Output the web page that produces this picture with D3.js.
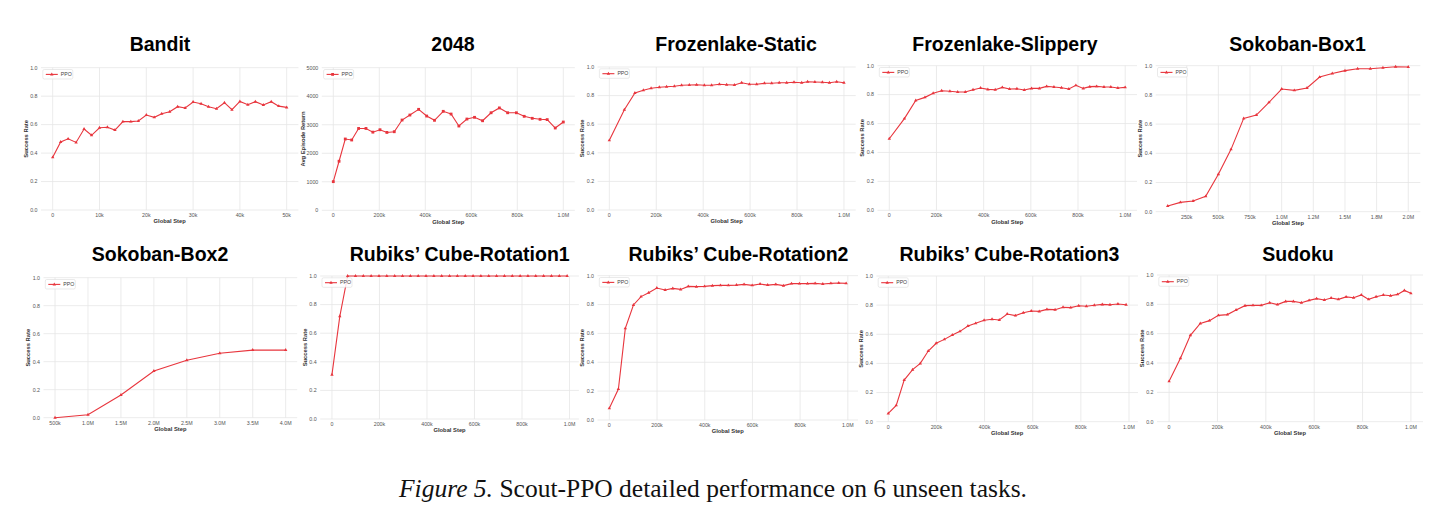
<!DOCTYPE html>
<html>
<head>
<meta charset="utf-8">
<script src="https://cdn.jsdelivr.net/npm/d3@7"></script>
<style>
  body { margin: 0; background: #fff; }
  svg { display: block; }
</style>
</head>
<body>
<div id="chart"></div>
<script>
// ---- data (steps in thousands) ----
var titles = ["Bandit", "2048", "Frozenlake-Static", "Frozenlake-Slippery", "Sokoban-Box1",
  "Sokoban-Box2", "Rubiks\u2019 Cube-Rotation1", "Rubiks\u2019 Cube-Rotation2", "Rubiks\u2019 Cube-Rotation3", "Sudoku"];

var banditSteps = [0, 1.7, 3.3, 5, 6.7, 8.3, 10, 11.7, 13.3, 15, 16.7, 18.3, 20, 21.7, 23.3, 25, 26.7, 28.3, 30, 31.7, 33.3, 35, 36.7, 38.3, 40, 41.7, 43.3, 45, 46.7, 48.3, 50];
var banditValues = [0.37, 0.478, 0.5, 0.475, 0.569, 0.525, 0.578, 0.581, 0.562, 0.621, 0.621, 0.625, 0.667, 0.651, 0.677, 0.691, 0.726, 0.717, 0.759, 0.747, 0.726, 0.712, 0.754, 0.705, 0.763, 0.74, 0.761, 0.738, 0.761, 0.73, 0.721];

var g2048Steps = [0, 25, 52, 80, 110, 142, 172, 203, 233, 265, 299, 333, 371, 406, 440, 478, 512, 546, 581, 614, 649, 686, 722, 758, 796, 830, 865, 899, 930, 965, 1000];
var g2048Values = [1005, 1720, 2500, 2465, 2870, 2870, 2740, 2825, 2730, 2755, 3165, 3340, 3540, 3305, 3155, 3470, 3375, 2955, 3200, 3260, 3140, 3420, 3590, 3420, 3420, 3295, 3225, 3190, 3180, 2885, 3095];

var flStaticSteps = [0, 64, 109, 145, 178, 213, 244, 277, 308, 341, 372, 405, 436, 469, 500, 533, 564, 597, 628, 661, 692, 724, 756, 787, 820, 845, 876, 908, 938, 969, 1000];
var flStaticValues = [0.487, 0.701, 0.818, 0.837, 0.851, 0.858, 0.862, 0.865, 0.872, 0.874, 0.876, 0.872, 0.872, 0.879, 0.876, 0.874, 0.89, 0.879, 0.879, 0.886, 0.886, 0.89, 0.89, 0.893, 0.89, 0.897, 0.895, 0.893, 0.89, 0.897, 0.89];

var flSlipSteps = [0, 64, 112, 151, 186, 222, 257, 290, 322, 355, 387, 418, 449, 479, 510, 541, 572, 603, 636, 667, 698, 730, 761, 791, 822, 850, 879, 910, 939, 969, 1000];
var flSlipValues = [0.495, 0.634, 0.76, 0.781, 0.809, 0.827, 0.823, 0.818, 0.818, 0.834, 0.846, 0.836, 0.834, 0.85, 0.839, 0.841, 0.832, 0.843, 0.843, 0.857, 0.853, 0.848, 0.839, 0.864, 0.843, 0.855, 0.857, 0.853, 0.853, 0.846, 0.85];

var box1Steps = [100, 200, 300, 400, 500, 600, 700, 800, 900, 1000, 1100, 1200, 1300, 1400, 1500, 1600, 1700, 1800, 1900, 2000];
var box1Values = [0.039, 0.064, 0.073, 0.105, 0.256, 0.427, 0.639, 0.662, 0.749, 0.84, 0.831, 0.847, 0.922, 0.947, 0.966, 0.979, 0.979, 0.986, 0.993, 0.991];

var box2Steps = [500, 1000, 1500, 2000, 2500, 3000, 3500, 4000];
var box2Values = [0.0, 0.021, 0.162, 0.333, 0.41, 0.46, 0.483, 0.483];

var rot1Steps = [0, 33, 66, 99, 132, 165, 198, 231, 264, 297, 330, 363, 396, 429, 462, 495, 528, 561, 594, 627, 660, 693, 726, 759, 792, 825, 858, 891, 924, 957, 990];
var rot1Values = [0.31, 0.718, 1, 1, 1, 1, 1, 1, 1, 1, 1, 1, 1, 1, 1, 1, 1, 1, 1, 1, 1, 1, 1, 1, 1, 1, 1, 1, 1, 1, 1];

var rot2Steps = [0, 38, 67, 101, 133, 165, 199, 234, 266, 299, 331, 365, 399, 432, 466, 499, 533, 565, 599, 632, 664, 698, 730, 764, 797, 831, 863, 895, 929, 962, 993];
var rot2Values = [0.081, 0.215, 0.635, 0.797, 0.855, 0.882, 0.915, 0.901, 0.912, 0.905, 0.926, 0.924, 0.926, 0.931, 0.933, 0.933, 0.935, 0.94, 0.933, 0.942, 0.935, 0.94, 0.931, 0.945, 0.945, 0.945, 0.947, 0.942, 0.947, 0.949, 0.947];

var rot3Steps = [0, 33, 66, 101, 133, 166, 199, 233, 266, 298, 331, 363, 398, 431, 461, 494, 528, 561, 594, 627, 659, 693, 726, 758, 791, 823, 856, 889, 921, 954, 988];
var rot3Values = [0.057, 0.112, 0.286, 0.357, 0.4, 0.485, 0.538, 0.565, 0.595, 0.62, 0.657, 0.675, 0.696, 0.703, 0.698, 0.739, 0.728, 0.748, 0.76, 0.757, 0.771, 0.769, 0.785, 0.783, 0.796, 0.792, 0.799, 0.805, 0.803, 0.808, 0.803];

var sudokuSteps = [0, 47, 88, 129, 167, 204, 241, 277, 314, 347, 381, 416, 448, 482, 514, 547, 579, 610, 642, 670, 700, 732, 763, 795, 825, 856, 886, 916, 945, 973, 1000];
var sudokuValues = [0.275, 0.432, 0.589, 0.67, 0.689, 0.725, 0.73, 0.761, 0.791, 0.793, 0.793, 0.811, 0.798, 0.82, 0.82, 0.811, 0.827, 0.839, 0.83, 0.843, 0.834, 0.851, 0.845, 0.864, 0.834, 0.852, 0.864, 0.859, 0.868, 0.895, 0.875];

// tick values / labels
var ticksBandit = [0, 10, 20, 30, 40, 50];
var labelsBandit = ["0", "10k", "20k", "30k", "40k", "50k"];
var ticks1M = [0, 200, 400, 600, 800, 1000];
var labels1M = ["0", "200k", "400k", "600k", "800k", "1.0M"];
var ticksBox1 = [250, 500, 750, 1000, 1250, 1500, 1750, 2000];
var labelsBox1 = ["250k", "500k", "750k", "1.0M", "1.2M", "1.5M", "1.8M", "2.0M"];
var ticksBox2 = [500, 1000, 1500, 2000, 2500, 3000, 3500, 4000];
var labelsBox2 = ["500k", "1.0M", "1.5M", "2.0M", "2.5M", "3.0M", "3.5M", "4.0M"];
var ticksRate = [0, 0.2, 0.4, 0.6, 0.8, 1.0];
var labelsRate = ["0.0", "0.2", "0.4", "0.6", "0.8", "1.0"];
var ticksReturn = [0, 1000, 2000, 3000, 4000, 5000];
var labelsReturn = ["0", "1000", "2000", "3000", "4000", "5000"];

var caption = "Scout-PPO detailed performance on 6 unseen tasks.";

// ---- layout ----
var W = 1441, H = 517;
var red = "#e8353d";
// plot frames: left, right, top, bottom
var frames = [
  [41, 298.4, 67.7, 210], [321.8, 574.8, 67.7, 210.3], [597.6, 855.7, 67, 210],
  [877.5, 1137, 65.7, 210.3], [1155.7, 1420.3, 65.7, 211.7],
  [43.5, 297.2, 277.7, 417.7], [320.2, 578.9, 276, 419], [597.5, 858, 275.7, 420],
  [876.4, 1138, 276, 421.7], [1157, 1423, 275, 421.7]
];
var titleX = [160, 453, 736, 1005, 1297.5, 160, 459.7, 738.5, 1009.5, 1298];

var panels = [
  {steps: banditSteps, values: banditValues, xt: ticksBandit, xl: labelsBandit},
  {steps: g2048Steps, values: g2048Values, xt: ticks1M, xl: labels1M, ret: true},
  {steps: flStaticSteps, values: flStaticValues, xt: ticks1M, xl: labels1M},
  {steps: flSlipSteps, values: flSlipValues, xt: ticks1M, xl: labels1M},
  {steps: box1Steps, values: box1Values, xt: ticksBox1, xl: labelsBox1},
  {steps: box2Steps, values: box2Values, xt: ticksBox2, xl: labelsBox2},
  {steps: rot1Steps, values: rot1Values, xt: ticks1M, xl: labels1M},
  {steps: rot2Steps, values: rot2Values, xt: ticks1M, xl: labels1M},
  {steps: rot3Steps, values: rot3Values, xt: ticks1M, xl: labels1M},
  {steps: sudokuSteps, values: sudokuValues, xt: ticks1M, xl: labels1M}
];

var svg = d3.select("#chart").append("svg")
  .attr("width", W).attr("height", H)
  .style("font-family", "'Liberation Sans', Arial, Helvetica, sans-serif");

svg.append("rect").attr("width", W).attr("height", H).attr("fill", "#fff");

panels.forEach(function(p, i) {
  var f = frames[i];
  var ext = d3.extent(p.steps);
  var pad = (ext[1] - ext[0]) * 0.05;
  var x = d3.scaleLinear().domain([ext[0] - pad, ext[1] + pad]).range([f[0], f[1]]);
  var y = d3.scaleLinear().domain(p.ret ? [0, 5000] : [0, 1]).range([f[3], f[2]]);
  var yt = p.ret ? ticksReturn : ticksRate;
  var yl = p.ret ? labelsReturn : labelsRate;
  var g = svg.append("g");

  // grid
  g.selectAll(".gy").data(yt).enter().append("line")
    .attr("x1", f[0]).attr("x2", f[1])
    .attr("y1", d => y(d)).attr("y2", d => y(d))
    .attr("stroke", "#e6e6e6").attr("stroke-width", 0.8);
  g.selectAll(".gx").data(p.xt).enter().append("line")
    .attr("x1", d => x(d)).attr("x2", d => x(d))
    .attr("y1", f[2]).attr("y2", f[3])
    .attr("stroke", "#e6e6e6").attr("stroke-width", 0.8);

  // tick labels
  g.selectAll(".ty").data(yt).enter().append("text")
    .attr("x", f[0] - 3.5).attr("y", d => y(d) + 1.8)
    .attr("text-anchor", "end").attr("font-size", "5.3px").attr("fill", "#555")
    .text((d, j) => yl[j]);
  g.selectAll(".tx").data(p.xt).enter().append("text")
    .attr("x", d => x(d)).attr("y", f[3] + 7)
    .attr("text-anchor", "middle").attr("font-size", "5.3px").attr("fill", "#555")
    .text((d, j) => p.xl[j]);

  // axis labels
  g.append("text")
    .attr("x", (f[0] + f[1]) / 2).attr("y", f[3] + 13.2)
    .attr("text-anchor", "middle").attr("font-size", "5.8px").attr("font-weight", "bold").attr("fill", "#333")
    .text("Global Step");
  g.append("text")
    .attr("transform", "translate(" + (f[0] - (p.ret ? 17 : 13.5)) + "," + ((f[2] + f[3]) / 2) + ") rotate(-90)")
    .attr("text-anchor", "middle").attr("font-size", "5.8px").attr("font-weight", "bold").attr("fill", "#333")
    .text(p.ret ? "Avg Episode Return" : "Success Rate");

  // line + markers
  var pts = p.steps.map((s, j) => [s, p.values[j]]);
  g.append("path").datum(pts)
    .attr("fill", "none").attr("stroke", red).attr("stroke-width", 1.1)
    .attr("d", d3.line().x(d => x(d[0])).y(d => y(d[1])));
  var sym = d3.symbol().type(p.ret ? d3.symbolSquare : d3.symbolTriangle).size(p.ret ? 8 : 5);
  g.selectAll(".m").data(pts).enter().append("path")
    .attr("transform", d => "translate(" + x(d[0]) + "," + y(d[1]) + ")")
    .attr("d", sym).attr("fill", red);

  // legend
  var lg = g.append("g").attr("transform", "translate(" + (f[0] + 1.8) + "," + (f[2] + 1.8) + ")");
  lg.append("rect").attr("width", 30).attr("height", 9.5).attr("rx", 1.5)
    .attr("fill", "#fff").attr("fill-opacity", 0.85).attr("stroke", "#dcdcdc").attr("stroke-width", 0.6);
  lg.append("line").attr("x1", 3).attr("x2", 15).attr("y1", 4.9).attr("y2", 4.9)
    .attr("stroke", red).attr("stroke-width", 1.1);
  lg.append("path").attr("transform", "translate(9,4.9)").attr("d", sym).attr("fill", red);
  lg.append("text").attr("x", 18).attr("y", 6.7).attr("font-size", "5.2px").attr("fill", "#444").text("PPO");

  // title
  svg.append("text")
    .attr("x", titleX[i]).attr("y", i < 5 ? 51 : 260.5)
    .attr("text-anchor", "middle").attr("font-size", "19.5px").attr("font-weight", "bold").attr("fill", "#000")
    .text(titles[i]);
});

// caption
var cap = svg.append("text")
  .attr("x", 713).attr("y", 497)
  .attr("text-anchor", "middle")
  .style("font-family", "'Liberation Serif', 'Times New Roman', serif")
  .attr("font-size", "25.5px").attr("fill", "#111");
cap.append("tspan").attr("font-style", "italic").text("Figure 5.");
cap.append("tspan").text(" " + caption);
</script>
</body>
</html>
